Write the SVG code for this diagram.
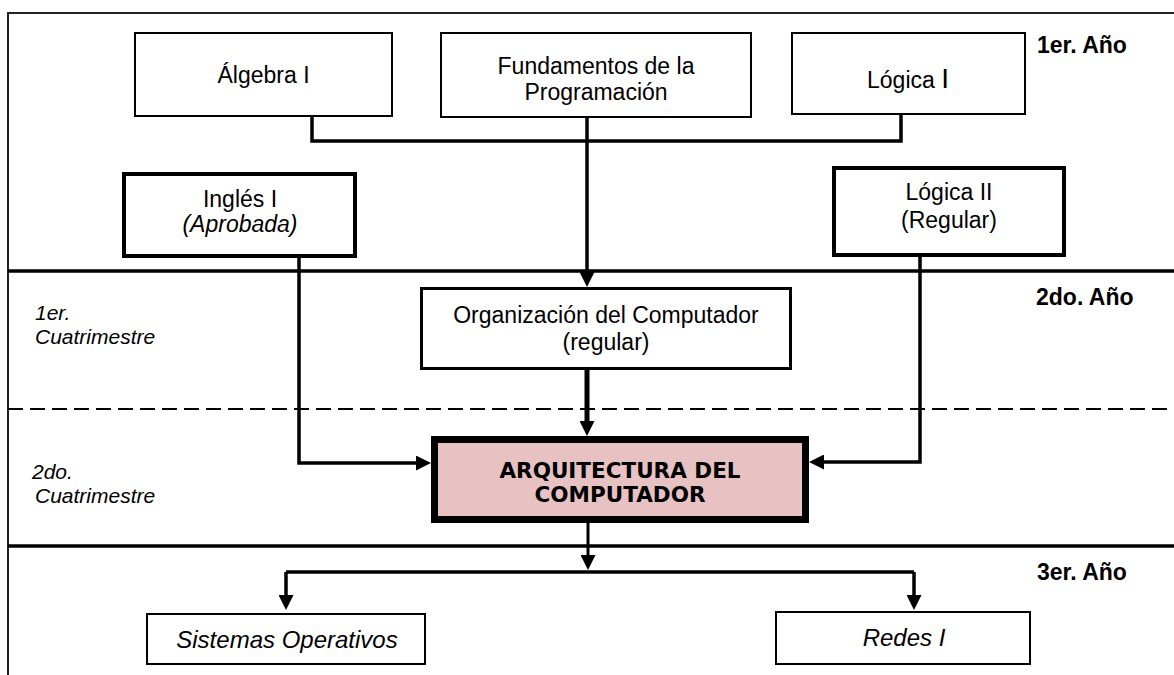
<svg xmlns="http://www.w3.org/2000/svg" width="1174" height="675" viewBox="0 0 1174 675">
<style>
  .box { fill: #ffffff; stroke: #000000; stroke-width: 2; }
  .bold-box { fill: #ffffff; stroke: #000000; stroke-width: 4; }
  .t { font-family: "Liberation Sans", Arial, sans-serif; font-size: 23px; fill: #000000; text-anchor: middle; }
  .ti { font-family: "Liberation Sans", Arial, sans-serif; font-size: 23px; font-style: italic; fill: #000000; text-anchor: middle; }
  .year { font-family: "Liberation Sans", Arial, sans-serif; font-size: 23px; font-weight: bold; fill: #000000; }
  .sem { font-family: "Liberation Sans", Arial, sans-serif; font-size: 21px; font-style: italic; fill: #000000; }
  .conn { fill: none; stroke: #000000; stroke-width: 3.5; }
  .sep { fill: none; stroke: #000000; stroke-width: 3.5; }
</style>
<defs>
  <marker id="arrow" viewBox="0 0 15 15" markerWidth="15" markerHeight="15" refX="5" refY="7.5" orient="auto" markerUnits="userSpaceOnUse">
    <path d="M0,0 L15,7.5 L0,15 z" fill="#000000"/>
  </marker>
</defs>
<rect x="0" y="0" width="1174" height="675" fill="#ffffff"/>

<g id="frame">
  <path d="M8,675 V13 H1174" fill="none" stroke="#222222" stroke-width="2"/>
  <line x1="8" y1="271" x2="1174" y2="271" class="sep"/>
  <line x1="8" y1="409" x2="1174" y2="409" fill="none" stroke="#000000" stroke-width="2" stroke-dasharray="15 7"/>
  <line x1="8" y1="546" x2="1174" y2="546" class="sep"/>
</g>

<g id="labels">
  <text class="year" x="1037" y="53">1er. Año</text>
  <text class="year" x="1036" y="305">2do. Año</text>
  <text class="year" x="1037" y="580">3er. Año</text>
  <text class="sem" x="35" y="320">1er.</text>
  <text class="sem" x="35" y="344">Cuatrimestre</text>
  <text class="sem" x="32" y="479">2do.</text>
  <text class="sem" x="35" y="503">Cuatrimestre</text>
</g>

<g id="connectors">
  <path class="conn" d="M312,116 V141 H901 V114"/>
  <path class="conn" d="M587,117 V277" marker-end="url(#arrow)"/>
  <path class="conn" d="M299,258 V463 H421" marker-end="url(#arrow)"/>
  <path class="conn" d="M920,257 V462 H819" marker-end="url(#arrow)"/>
  <path class="conn" d="M587,370 V426" stroke-width="5" style="stroke-width:5" marker-end="url(#arrow)"/>
  <path class="conn" d="M588,523 V560" style="stroke-width:3" marker-end="url(#arrow)"/>
  <path class="conn" d="M286,572 H914"/>
  <path class="conn" d="M286,572 V600" marker-end="url(#arrow)"/>
  <path class="conn" d="M914,572 V600" marker-end="url(#arrow)"/>
</g>

<g id="algebra">
  <rect class="box" x="135" y="33" width="257" height="83"/>
  <text class="t" x="263.5" y="83">Álgebra I</text>
</g>

<g id="fundamentos">
  <rect class="box" x="441" y="33" width="310" height="84"/>
  <text class="t" x="596" y="74">Fundamentos de la</text>
  <text class="t" x="596" y="100">Programación</text>
</g>

<g id="logica1">
  <rect class="box" x="792" y="33" width="233" height="81"/>
  <text class="t" x="908" y="88">Lógica <tspan style="font-size:28px">I</tspan></text>
</g>

<g id="ingles">
  <rect class="bold-box" x="124" y="174" width="231" height="82"/>
  <text class="t" x="240" y="207">Inglés I</text>
  <text class="ti" x="240" y="232">(Aprobada)</text>
</g>

<g id="logica2">
  <rect class="bold-box" x="834" y="168" width="230" height="87"/>
  <text class="t" x="949" y="200">Lógica II</text>
  <text class="t" x="949" y="228">(Regular)</text>
</g>

<g id="organizacion">
  <rect class="box" x="421.5" y="288.5" width="369" height="80" style="stroke-width:3"/>
  <text class="t" x="606" y="323">Organización del Computador</text>
  <text class="t" x="606" y="350">(regular)</text>
</g>

<g id="arquitectura">
  <rect x="434.5" y="439.5" width="371" height="80" fill="#e8c2c3" stroke="#000000" stroke-width="7"/>
  <text x="620" y="478" font-family="'DejaVu Sans', Verdana, sans-serif" font-size="21.5" font-weight="bold" text-anchor="middle" fill="#000000">ARQUITECTURA DEL</text>
  <text x="620" y="502" font-family="'DejaVu Sans', Verdana, sans-serif" font-size="21.5" font-weight="bold" text-anchor="middle" fill="#000000">COMPUTADOR</text>
</g>

<g id="sistemas">
  <rect class="box" x="147" y="614" width="278" height="50"/>
  <text class="ti" x="287" y="648" style="font-size:24px">Sistemas Operativos</text>
</g>

<g id="redes">
  <rect class="box" x="776" y="612" width="254" height="52"/>
  <text class="ti" x="904" y="646" style="font-size:24px">Redes I</text>
</g>
</svg>
